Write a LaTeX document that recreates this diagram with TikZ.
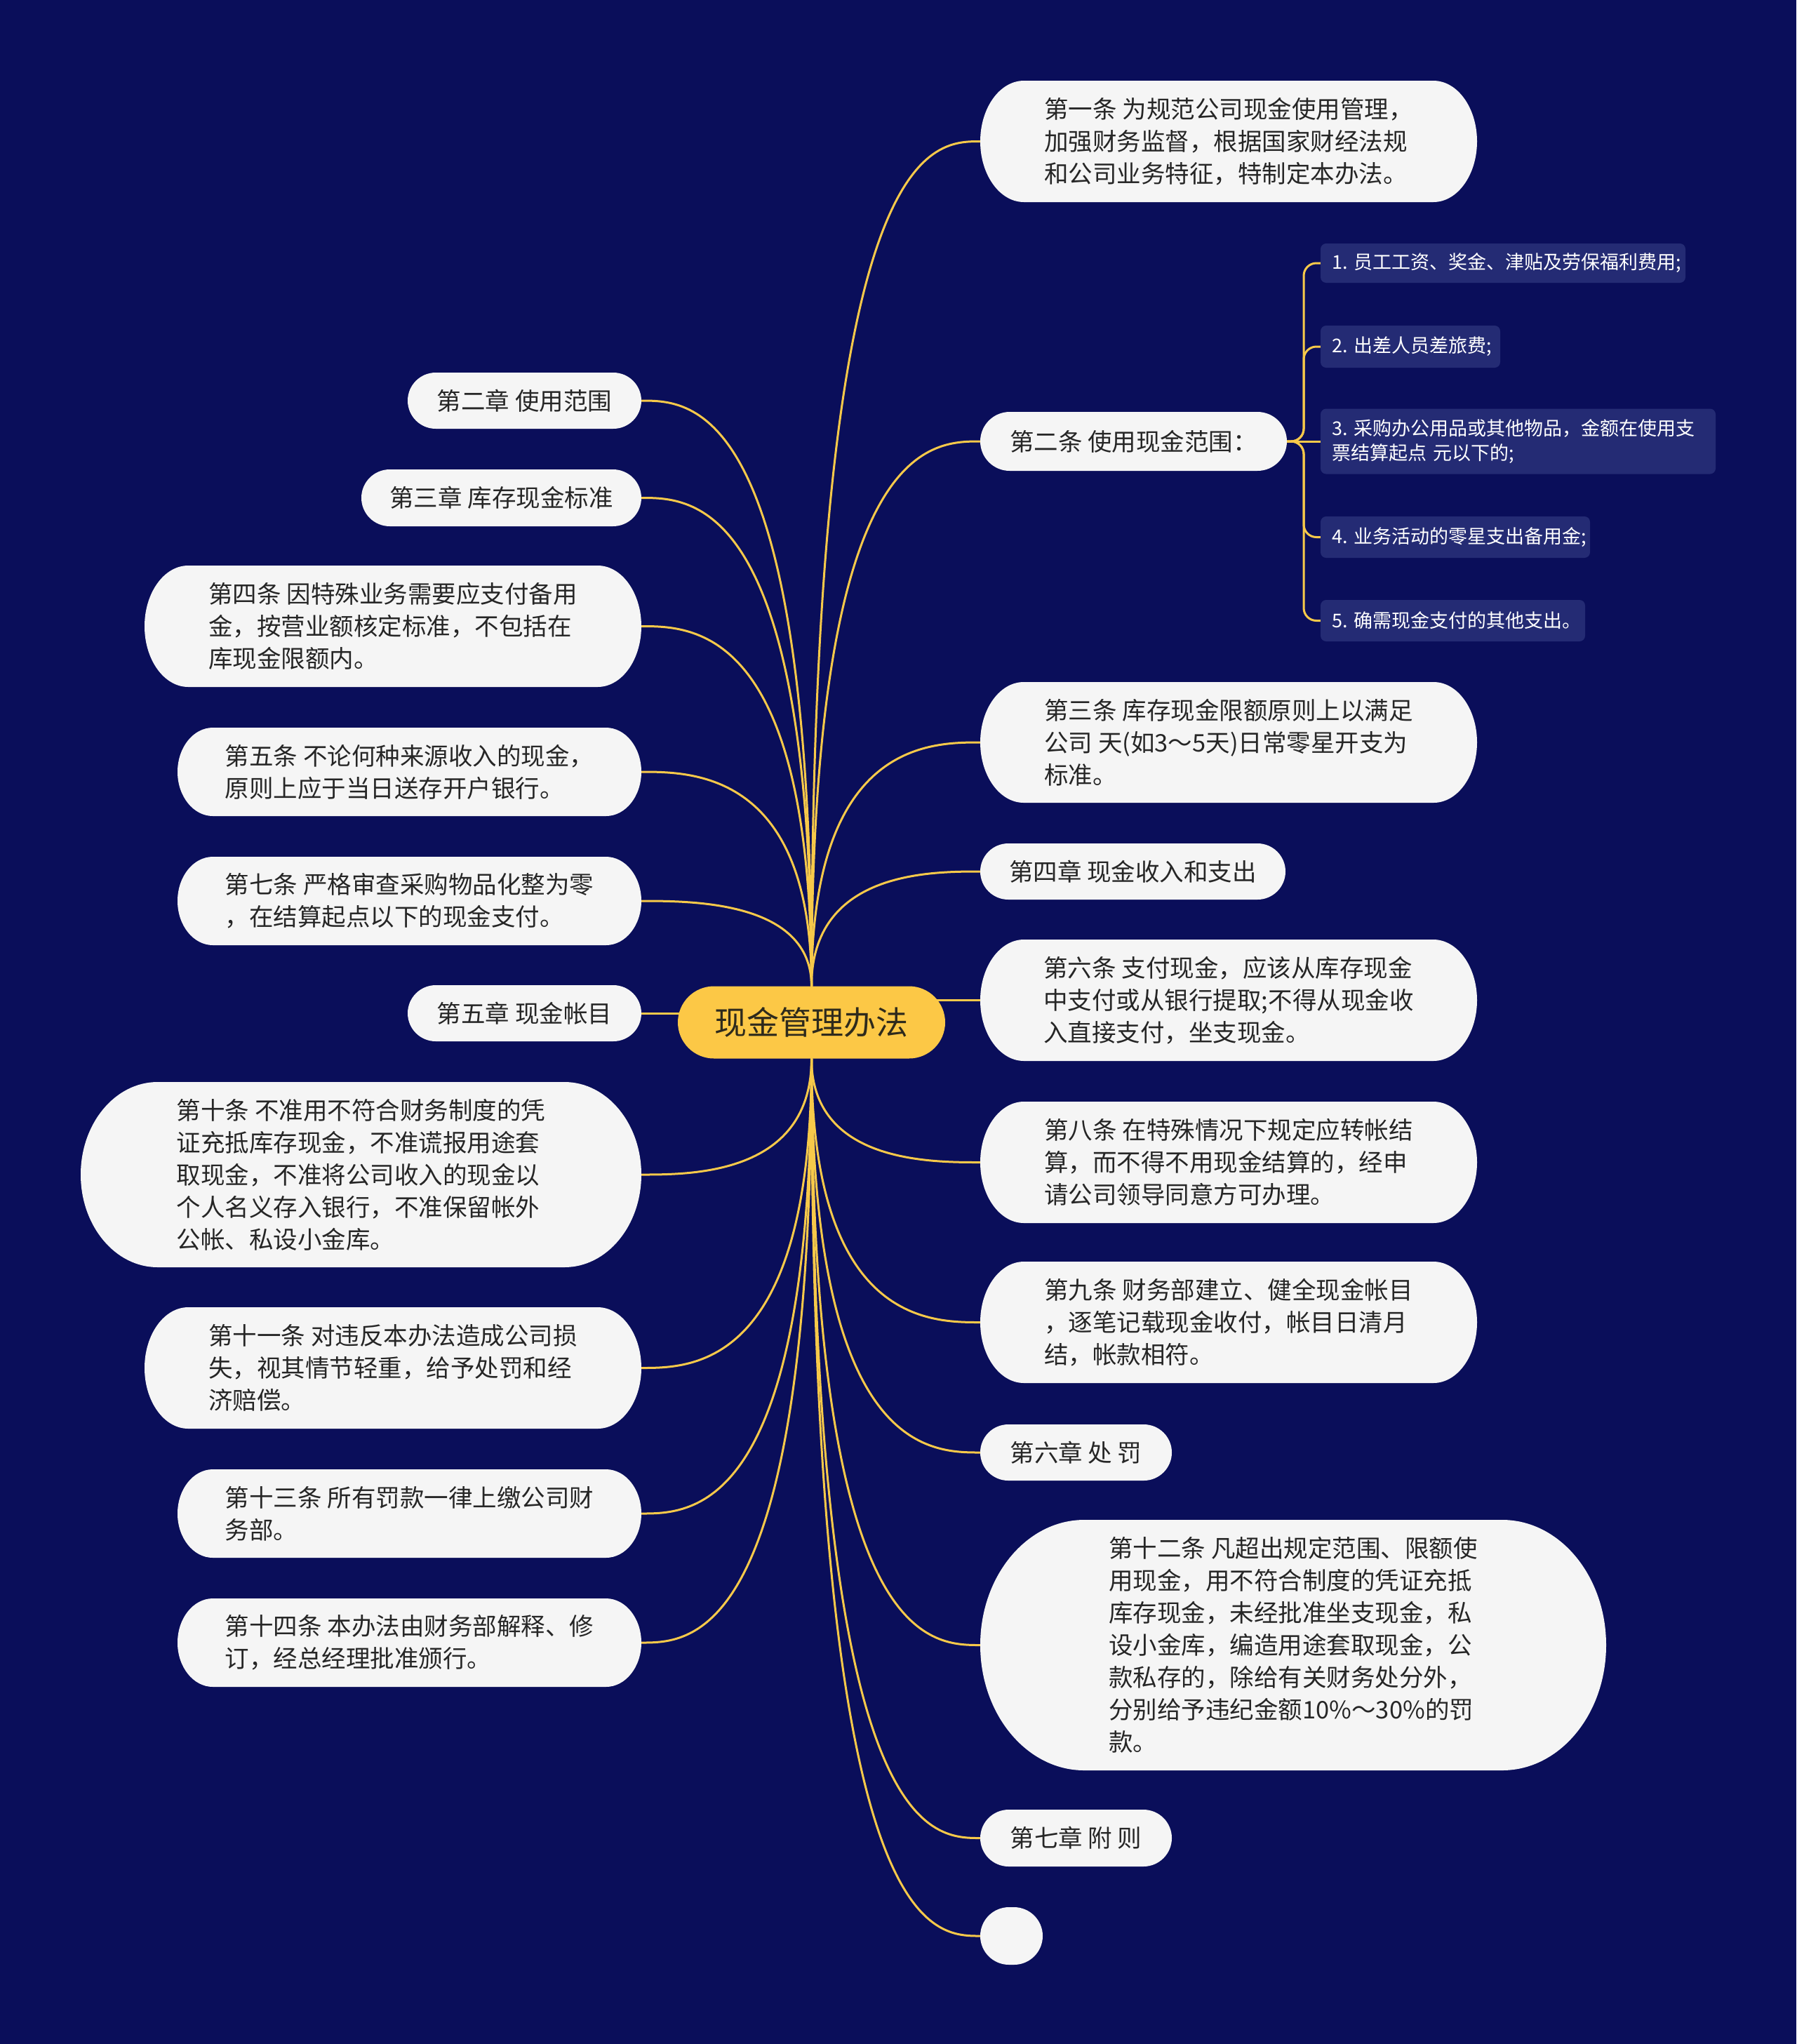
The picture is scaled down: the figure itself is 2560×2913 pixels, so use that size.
\documentclass[tikz,border=0pt]{standalone}
\usepackage{fontspec}
\setmainfont{Noto Sans CJK SC}
\usetikzlibrary{calc}
\definecolor{bgc}{HTML}{0A0E5A}
\definecolor{nodec}{HTML}{F5F5F5}
\definecolor{subc}{HTML}{242B74}
\definecolor{linec}{HTML}{F7C94A}
\definecolor{centerc}{HTML}{FCC846}
\definecolor{txtc}{HTML}{262626}
\definecolor{ctxtc}{HTML}{2E2A1C}
\pgfdeclarelayer{back}
\pgfdeclarelayer{lines}
\pgfdeclarelayer{shapes}
\pgfsetlayers{back,lines,shapes,main}
\newcommand\pillbg[3]{\fill[#2] let \p1=(#1.north west), \p2=(#1.south east),
  \n1={(\y1-\y2)/2}, \n2={#3*(\y1-\y2)/2} in
  (\x1+\n2,\y1) -- (\x2-\n2,\y1)
  arc[start angle=90,end angle=-90,x radius=\n2,y radius=\n1]
  -- (\x1+\n2,\y2)
  arc[start angle=270,end angle=90,x radius=\n2,y radius=\n1] -- cycle;}
\newcommand\subbg[1]{\fill[subc,rounded corners=8pt] (#1.north west) rectangle (#1.south east);}
\newcommand\upR[1]{\draw[conn] (c.north) .. controls (c.north |- #1.west) and ($(c.north |- #1.west)!0.7!(#1.west)$) .. (#1.west);}
\newcommand\upL[1]{\draw[conn] (c.north) .. controls (c.north |- #1.east) and ($(c.north |- #1.east)!0.7!(#1.east)$) .. (#1.east);}
\newcommand\dnR[1]{\draw[conn] (c.south) .. controls (c.south |- #1.west) and ($(c.south |- #1.west)!0.7!(#1.west)$) .. (#1.west);}
\newcommand\dnL[1]{\draw[conn] (c.south) .. controls (c.south |- #1.east) and ($(c.south |- #1.east)!0.7!(#1.east)$) .. (#1.east);}
\newcommand\subln[1]{\draw[conn,rounded corners=18pt] (R2.east) -| (trunk |- #1.west) -- (#1.west);}
\begin{document}
\begin{tikzpicture}[x=1pt,y=1pt,
  txt/.style={align=left,text=txtc,font=\fontsize{34.5}{46}\selectfont,inner sep=0pt,outer sep=0pt},
  sub/.style={align=left,text=white,font=\fontsize{27}{35}\selectfont,inner ysep=0pt,inner xsep=16pt,outer sep=0pt,anchor=west},
  conn/.style={draw=linec,line width=3pt}]
\begin{pgfonlayer}{back}
\fill[bgc] (0,0) rectangle (2560,-2913);
\end{pgfonlayer}
\useasboundingbox (0,0) rectangle (2560,-2913);

% center
\node[inner sep=0pt,outer sep=0pt,minimum width=381pt,minimum height=103pt,text=ctxtc,font=\fontsize{46}{56}\selectfont] (c) at (1156.5,-1457) {现金管理办法};

% right side
\node[txt,minimum width=708pt,minimum height=173pt] (R1) at (1751,-201.5) {第一条 为规范公司现金使用管理，\\加强财务监督，根据国家财经法规\\和公司业务特征，特制定本办法。};
\node[txt,minimum width=437pt,minimum height=84pt] (R2) at (1615.5,-629) {第二条 使用现金范围：};
\node[txt,minimum width=708pt,minimum height=172pt] (R3) at (1751,-1058) {第三条 库存现金限额原则上以满足\\公司 天(如3～5天)日常零星开支为\\标准。};
\node[txt,minimum width=435pt,minimum height=80pt] (R4) at (1614.5,-1242) {第四章 现金收入和支出};
\node[txt,minimum width=708pt,minimum height=173pt] (R5) at (1751,-1425.5) {第六条 支付现金，应该从库存现金\\中支付或从银行提取;不得从现金收\\入直接支付，坐支现金。};
\node[txt,minimum width=708pt,minimum height=173pt] (R6) at (1751,-1656.5) {第八条 在特殊情况下规定应转帐结\\算，而不得不用现金结算的，经申\\请公司领导同意方可办理。};
\node[txt,minimum width=708pt,minimum height=173pt] (R7) at (1751,-1884.5) {第九条 财务部建立、健全现金帐目\\，逐笔记载现金收付，帐目日清月\\结，帐款相符。};
\node[txt,minimum width=273pt,minimum height=80pt] (R8) at (1533.5,-2070) {第六章 处 罚};
\node[txt,minimum width=892pt,minimum height=357pt] (R9) at (1843,-2344.5) {第十二条 凡超出规定范围、限额使\\用现金，用不符合制度的凭证充抵\\库存现金，未经批准坐支现金，私\\设小金库，编造用途套取现金，公\\款私存的，除给有关财务处分外，\\分别给予违纪金额10\%～30\%的罚\\款。};
\node[txt,minimum width=273pt,minimum height=81pt] (R10) at (1533.5,-2619.5) {第七章 附 则};
\node[txt,minimum width=89pt,minimum height=82pt] (R11) at (1441.5,-2759) {};

% sub items
\coordinate (trunk) at (1858,-629);
\node[sub,text width=488pt,minimum height=56pt] (S1) at (1882,-375) {1.~员工工资、奖金、津贴及劳保福利费用;};
\node[sub,text width=224pt,minimum height=60pt] (S2) at (1882,-494) {2.~出差人员差旅费;};
\node[sub,text width=531pt,minimum height=93pt] (S3) at (1882,-629) {3.~采购办公用品或其他物品，金额在使用支\\票结算起点 元以下的;};
\node[sub,text width=352pt,minimum height=59pt] (S4) at (1882,-765.5) {4.~业务活动的零星支出备用金;};
\node[sub,text width=345pt,minimum height=59pt] (S5) at (1882,-884.5) {5.~确需现金支付的其他支出。};

% left side
\node[txt,minimum width=333pt,minimum height=80pt] (L1) at (747.5,-571) {第二章 使用范围};
\node[txt,minimum width=399pt,minimum height=81pt] (L2) at (714.5,-709.5) {第三章 库存现金标准};
\node[txt,minimum width=708pt,minimum height=173pt] (L3) at (560,-892.5) {第四条 因特殊业务需要应支付备用\\金，按营业额核定标准，不包括在\\库现金限额内。};
\node[txt,minimum width=661pt,minimum height=126pt] (L4) at (583.5,-1100) {第五条 不论何种来源收入的现金，\\原则上应于当日送存开户银行。};
\node[txt,minimum width=661pt,minimum height=126pt] (L5) at (583.5,-1284) {第七条 严格审查采购物品化整为零\\，在结算起点以下的现金支付。};
\node[txt,minimum width=333pt,minimum height=80pt] (L6) at (747.5,-1444) {第五章 现金帐目};
\node[txt,minimum width=799pt,minimum height=264pt] (L7) at (514.5,-1674) {第十条 不准用不符合财务制度的凭\\证充抵库存现金，不准谎报用途套\\取现金，不准将公司收入的现金以\\个人名义存入银行，不准保留帐外\\公帐、私设小金库。};
\node[txt,minimum width=708pt,minimum height=173pt] (L8) at (560,-1949.5) {第十一条 对违反本办法造成公司损\\失，视其情节轻重，给予处罚和经\\济赔偿。};
\node[txt,minimum width=661pt,minimum height=126pt] (L9) at (583.5,-2157) {第十三条 所有罚款一律上缴公司财\\务部。};
\node[txt,minimum width=661pt,minimum height=126pt] (L10) at (583.5,-2341) {第十四条 本办法由财务部解释、修\\订，经总经理批准颁行。};

% shapes
\begin{pgfonlayer}{shapes}
\pillbg{c}{centerc}{1}
\foreach \nm in {R2,R4,R8,R10,R11,L1,L2,L6} {\pillbg{\nm}{nodec}{1}}
\foreach \nm in {R1,R3,R5,R6,R7,L3,L8} {\pillbg{\nm}{nodec}{0.72}}
\foreach \nm in {L4,L5,L9,L10} {\pillbg{\nm}{nodec}{0.8}}
\foreach \nm in {R9,L7} {\pillbg{\nm}{nodec}{0.83}}
\foreach \nm in {S1,S2,S3,S4,S5} {\subbg{\nm}}
\end{pgfonlayer}

% connectors
\begin{pgfonlayer}{lines}
\foreach \nm in {R1,R2,R3,R4} {\upR{\nm}}
\foreach \nm in {R6,R7,R8,R9,R10,R11} {\dnR{\nm}}
\foreach \nm in {L1,L2,L3,L4,L5} {\upL{\nm}}
\foreach \nm in {L7,L8,L9,L10} {\dnL{\nm}}
\draw[conn] (c.center |- R5.west) -- (R5.west);
\draw[conn] (c.center |- L6.east) -- (L6.east);
\foreach \nm in {S1,S2,S4,S5} {\subln{\nm}}
\draw[conn] (R2.east) -- (S3.west);
\end{pgfonlayer}
\end{tikzpicture}
\end{document}
